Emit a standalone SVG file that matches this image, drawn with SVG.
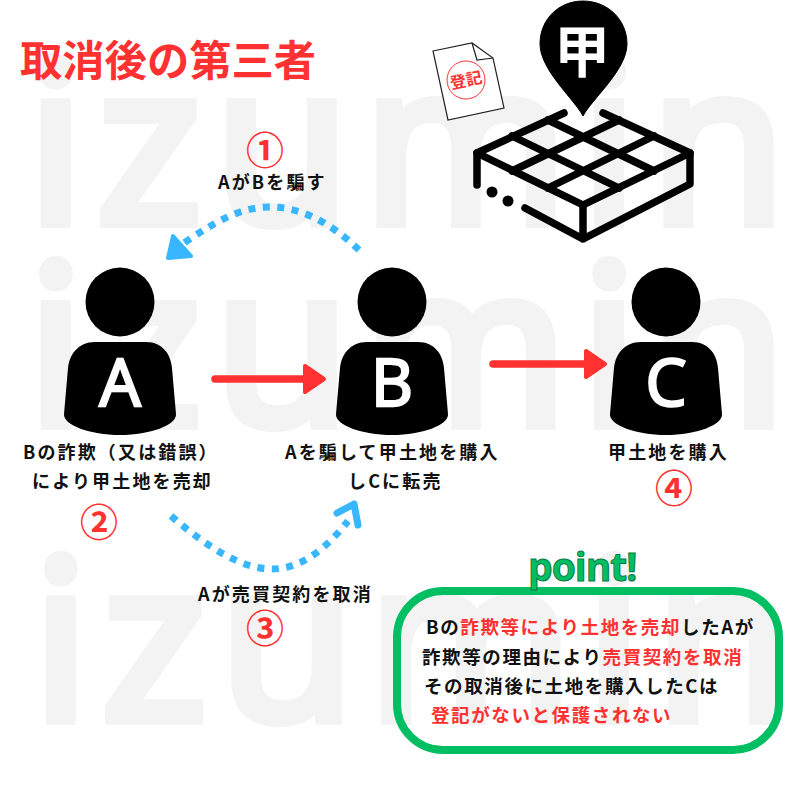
<svg xmlns="http://www.w3.org/2000/svg" width="800" height="800" viewBox="0 0 800 800">
<style>
text{font-family:"Noto Sans CJK JP","Noto Sans",sans-serif;font-weight:700}
.wm{font-family:"Open Sans",sans-serif;font-weight:400;font-size:220px;fill:#f3f3f3;stroke:#f3f3f3;stroke-width:12px;letter-spacing:14px}
.lb{font-size:18px;letter-spacing:2.15px;fill:#111}
.pt{font-size:18.5px;letter-spacing:1.6px;fill:#111}
.r{fill:#ff3131}
.num{font-size:38px;fill:#ff3131;text-anchor:middle}
.ltr{font-family:"Open Sans",sans-serif;font-weight:400;font-size:65px;fill:#fff;stroke:#fff;stroke-width:2.5px;text-anchor:middle}
.blue{fill:none;stroke:#38b6ff;stroke-width:7;stroke-dasharray:7 7.5}
.land{fill:none;stroke:#000;stroke-width:7.5;stroke-linecap:round;stroke-linejoin:round}
.ra{stroke:#ff3131;stroke-width:7.5;stroke-linecap:round;fill:none}
.rh{fill:#ff3131;stroke:#ff3131;stroke-width:4;stroke-linejoin:round}
</style>
<defs>
<g id="person">
<circle cx="0" cy="0" r="34.5"/>
<path d="M-25 40H26C43 40 51 53 52 66L56 112C57 123 30 133 0 133C-30 133 -57 123 -56 112L-52 66C-51 53 -42 40 -25 40Z"/>
</g>
</defs>
<g id="watermark">
<text class="wm" x="28" y="222">izumin</text>
<text class="wm" x="28" y="424">izumin</text>
<text class="wm" x="33" y="719">izumin</text>
</g>
<text id="title" x="20" y="76" font-size="42.3" fill="#ff3131">取消後の第三者</text>
<g id="land">
<path class="land" d="M564 113L477 153L583 205L690 153L603 113"/>
<path class="land" d="M477 153V185M690 153V184L583 239L525 208M583 205V239"/>
<path class="land" d="M548 120L654 171M512 136L619 188M619 120L512 171M654 136L548 188"/>
<circle cx="492" cy="192" r="5.5"/><circle cx="508" cy="201" r="5.5"/>
</g>
<g id="pin">
<path d="M583 116C575 100 540 70 540 44C540 19 559 1 583 1C607 1 627 19 627 44C627 70 591 100 583 116Z" stroke="#000" stroke-linejoin="round"/>
<text x="582" y="72" font-size="56" fill="#fff" text-anchor="middle">甲</text>
</g>
<g id="document">
<path d="M433 51L472 43L493 58L504 108L448 120Z" fill="#fff" stroke="#222" stroke-width="1.2"/>
<path d="M472 43L477 60L493 58" fill="none" stroke="#222" stroke-width="1.2"/>
<circle cx="466" cy="80" r="19" fill="none" stroke="#ff3131" stroke-width="1"/>
<text x="466" y="86" font-size="16" fill="#ff3131" text-anchor="middle" transform="rotate(-12 466 80)">登記</text>
</g>
<g id="connectors">
<path class="blue" d="M359 250C330 222 300 207 270 207C240 207 215 222 184 243"/>
<path d="M173 236L168 258L191 256Z" fill="#38b6ff" stroke="#38b6ff" stroke-width="4" stroke-linejoin="round"/>
<path class="blue" d="M171 516C205 545 240 569 272 569C300 569 325 550 348 521"/>
<path d="M337 513L354 504L358 525" fill="none" stroke="#38b6ff" stroke-width="7" stroke-linecap="round" stroke-linejoin="round"/>
<path class="ra" d="M215 379H318"/><path class="rh" d="M305 366L324 379L305 392Z"/>
<path class="ra" d="M493 364H598"/><path class="rh" d="M586 351L605 364L586 377Z"/>
</g>
<g id="nodeA"><use href="#person" x="120" y="302"/><text class="ltr" x="120" y="406">A</text></g>
<g id="nodeB"><use href="#person" x="392" y="302"/><text class="ltr" x="392" y="406">B</text></g>
<g id="nodeC"><use href="#person" x="666" y="302"/><text class="ltr" x="666" y="406">C</text></g>
<g id="labels">
<text class="num" x="265" y="164">①</text>
<text class="lb" x="218" y="189">AがBを騙す</text>
<text class="lb" x="23" y="459">Bの詐欺（又は錯誤）</text>
<text class="lb" x="32" y="488">により甲土地を売却</text>
<text class="num" x="99" y="536">②</text>
<text class="lb" x="285" y="459">Aを騙して甲土地を購入</text>
<text class="lb" x="348" y="488">しCに転売</text>
<text class="lb" x="608" y="459">甲土地を購入</text>
<text class="num" x="674" y="502">④</text>
<text class="lb" x="198" y="601">Aが売買契約を取消</text>
<text class="num" x="265" y="642">③</text>
</g>
<g id="point">
<rect x="397" y="591" width="382" height="159" rx="46" fill="none" stroke="#00bf63" stroke-width="8"/>
<text x="528" y="581" font-size="39" style="font-family:'Open Sans',sans-serif;font-weight:700" fill="#00bf63" stroke="#0b7a45" stroke-width="1" letter-spacing="-1">point!</text>
<text class="pt" x="426" y="634">Bの<tspan class="r">詐欺等により土地を売却</tspan>したAが</text>
<text class="pt" x="422" y="664">詐欺等の理由により<tspan class="r">売買契約を取消</tspan></text>
<text class="pt" x="424" y="693">その取消後に土地を購入したCは</text>
<text class="pt r" x="431" y="722">登記がないと保護されない</text>
</g>
</svg>
